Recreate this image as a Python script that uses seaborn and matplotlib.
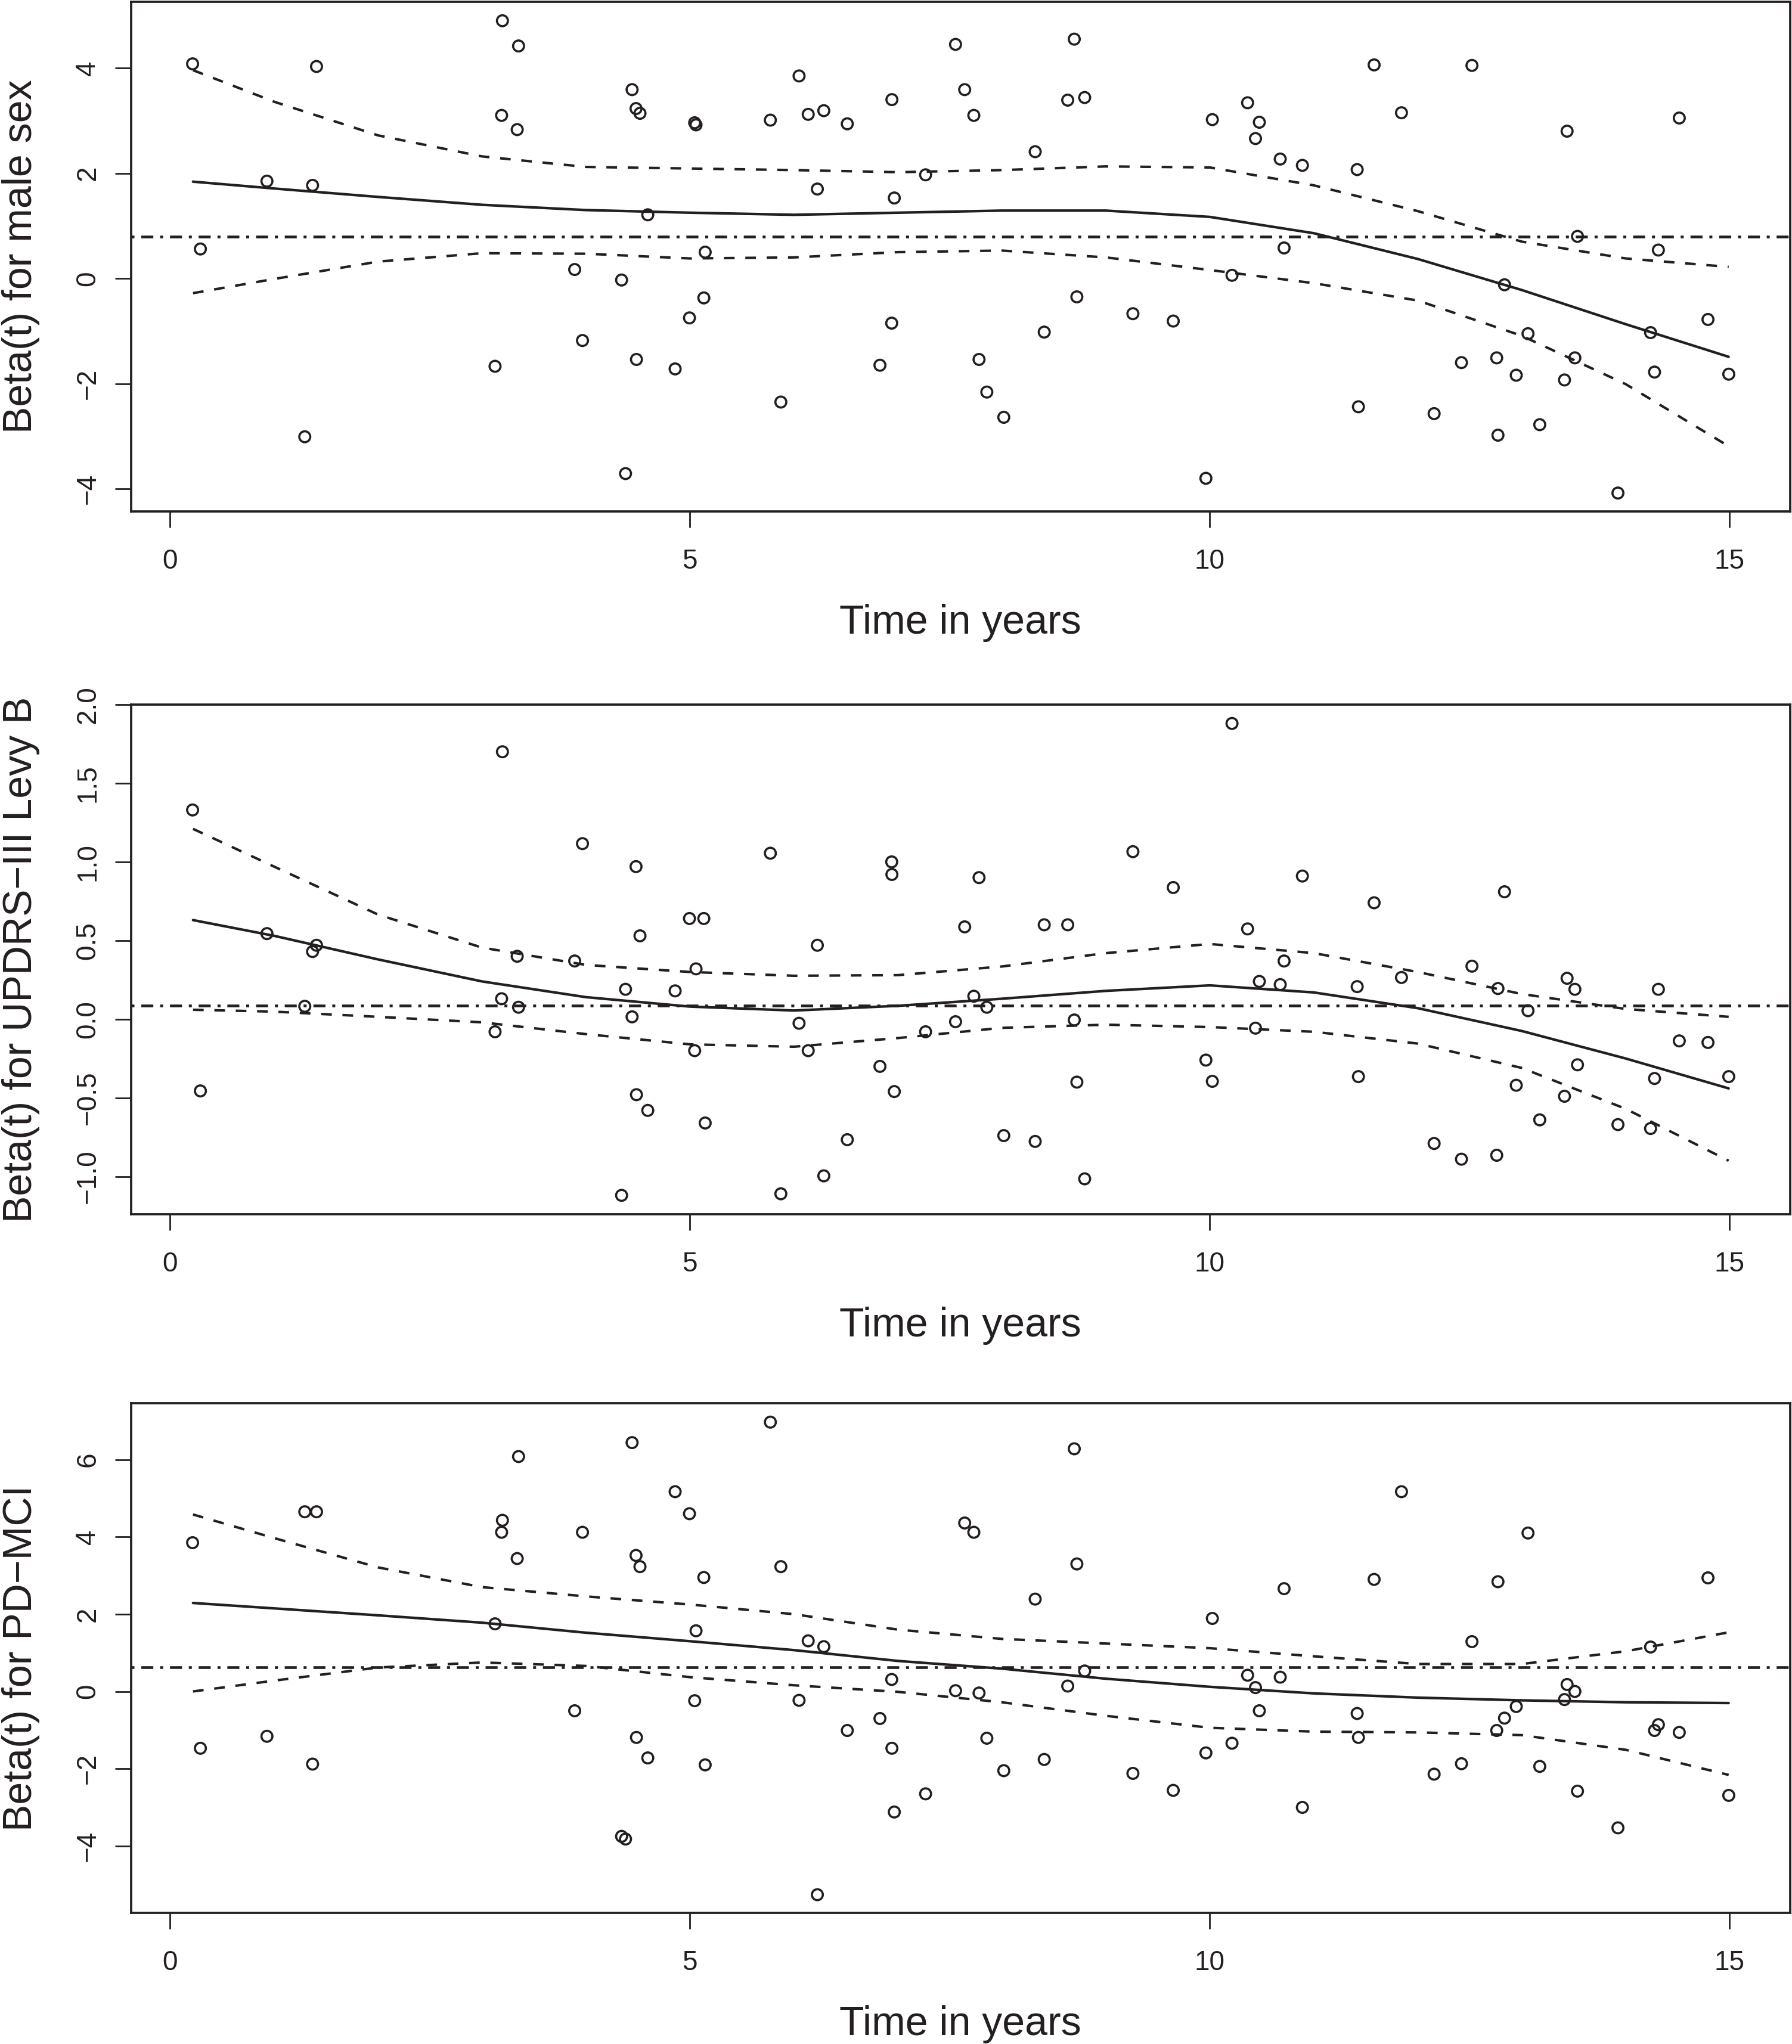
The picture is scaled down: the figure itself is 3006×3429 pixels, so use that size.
import numpy as np
import pandas as pd
import matplotlib
matplotlib.use("Agg")
import matplotlib.pyplot as plt
import seaborn as sns

# ---------------- data ----------------
event_time = [0.216, 0.291, 0.931, 1.295, 1.370, 1.408, 3.125, 3.188, 3.196, 3.351,
              3.338, 3.891, 3.966, 4.342, 4.380, 4.443, 4.481, 4.519, 4.485, 4.594,
              4.857, 4.995, 5.045, 5.058, 5.133, 5.146, 5.773, 5.874, 6.049, 6.137,
              6.225, 6.287, 6.513, 6.827, 6.940, 6.942, 6.965, 7.266, 7.554, 7.642,
              7.730, 7.780, 7.855, 8.018, 8.320, 8.407, 8.633, 8.696, 8.721, 8.796,
              9.260, 9.648, 9.962, 10.024, 10.213, 10.363, 10.439, 10.476, 10.677, 10.714,
              10.890, 11.417, 11.429, 11.580, 11.843, 12.157, 12.420, 12.521, 12.759, 12.771,
              12.834, 12.947, 13.060, 13.173, 13.411, 13.436, 13.511, 13.536, 13.925, 14.239,
              14.277, 14.314, 14.515, 14.791, 14.991]

resid_male_sex = [4.08, 0.56, 1.85, -3.01, 1.77, 4.03, -1.67, 3.10, 4.90, 4.42,
                  2.83, 0.17, -1.18, -0.03, -3.71, 3.59, 3.23, 3.14, -1.54, 1.21,
                  -1.72, -0.75, 2.96, 2.92, -0.37, 0.50, 3.01, -2.35, 3.85, 3.12,
                  1.70, 3.19, 2.94, -1.65, -0.85, 3.40, 1.53, 1.97, 4.45, 3.59,
                  3.10, -1.54, -2.16, -2.64, 2.41, -1.02, 3.39, 4.55, -0.35, 3.44,
                  -0.67, -0.81, -3.80, 3.02, 0.06, 3.34, 2.66, 2.97, 2.27, 0.58,
                  2.15, 2.07, -2.44, 4.06, 3.15, -2.57, -1.60, 4.05, -1.51, -2.98,
                  -0.12, -1.84, -1.05, -2.78, -1.93, 2.80, -1.51, 0.80, -4.08, -1.03,
                  -1.78, 0.54, 3.05, -0.78, -1.82]

resid_updrs = [1.33, -0.456, 0.544, 0.082, 0.43, 0.47, -0.08, 0.13, 1.70, 0.076,
               0.40, 0.37, 1.116, -1.12, 0.19, 0.015, 0.97, 0.53, -0.48, -0.58,
               0.18, 0.64, -0.20, 0.32, 0.64, -0.66, 1.055, -1.11, -0.026, -0.20,
               0.47, -0.996, -0.766, -0.30, 1.0, 0.92, -0.46, -0.08, -0.016, 0.587,
               0.146, 0.90, 0.076, -0.74, -0.777, 0.60, 0.60, -0.005, -0.40, -1.015,
               1.065, 0.837, -0.26, -0.395, 1.88, 0.574, -0.057, 0.24, 0.22, 0.37,
               0.91, 0.207, -0.365, 0.74, 0.265, -0.79, -0.89, 0.337, -0.865, 0.195,
               0.81, -0.42, 0.054, -0.64, -0.49, 0.26, 0.19, -0.29, -0.67, -0.695,
               -0.377, 0.19, -0.138, -0.148, -0.365]

resid_pdmci = [3.85, -1.47, -1.16, 4.65, -1.88, 4.65, 1.75, 4.12, 4.43, 6.08,
               3.44, -0.50, 4.12, -3.75, -3.82, 6.44, 3.52, 3.23, -1.19, -1.72,
               5.17, 4.60, -0.24, 1.57, 2.95, -1.90, 6.97, 3.23, -0.23, 1.31,
               -5.26, 1.16, -1.01, -0.70, 0.31, -1.47, -3.12, -2.65, 0.02, 4.36,
               4.12, -0.04, -1.21, -2.05, 2.39, -1.76, 0.14, 6.28, 3.30, 0.53,
               -2.12, -2.56, -1.59, 1.89, -1.34, 0.42, 0.10, -0.50, 0.37, 2.66,
               -3.00, -0.57, -1.19, 2.90, 5.17, -2.14, -1.87, 1.29, -1.01, 2.84,
               -0.69, -0.39, 4.10, -1.94, -0.21, 0.18, 0.00, -2.58, -3.53, 1.15,
               -1.01, -0.86, -1.06, 2.94, -2.69]

curve_time = [0.22, 1, 2, 3, 4, 5, 6, 7, 8, 9, 10, 11, 12, 13, 14, 14.99]

fit_male_sex = [1.84, 1.71, 1.55, 1.40, 1.30, 1.25, 1.21, 1.25, 1.29, 1.29, 1.17, 0.86, 0.37, -0.22, -0.87, -1.49]
upper_male_sex = [3.96, 3.36, 2.72, 2.32, 2.12, 2.09, 2.06, 2.02, 2.06, 2.13, 2.11, 1.77, 1.28, 0.70, 0.38, 0.22]
lower_male_sex = [-0.28, -0.01, 0.32, 0.48, 0.47, 0.38, 0.40, 0.50, 0.53, 0.40, 0.16, -0.09, -0.42, -1.09, -2.01, -3.19]

fit_updrs = [0.63, 0.53, 0.38, 0.24, 0.14, 0.08, 0.055, 0.085, 0.13, 0.18, 0.215, 0.17, 0.07, -0.075, -0.25, -0.44]
upper_updrs = [1.21, 0.97, 0.665, 0.455, 0.345, 0.30, 0.276, 0.28, 0.335, 0.42, 0.478, 0.42, 0.30, 0.16, 0.065, 0.015]
lower_updrs = [0.06, 0.048, 0.015, -0.02, -0.095, -0.16, -0.175, -0.12, -0.055, -0.035, -0.05, -0.08, -0.155, -0.31, -0.57, -0.90]

fit_pdmci = [2.29, 2.15, 1.97, 1.78, 1.52, 1.30, 1.07, 0.79, 0.59, 0.33, 0.12, -0.05, -0.16, -0.23, -0.28, -0.30]
upper_pdmci = [4.58, 3.97, 3.21, 2.70, 2.46, 2.25, 2.00, 1.60, 1.36, 1.24, 1.12, 0.91, 0.71, 0.71, 1.04, 1.53]
lower_pdmci = [0.00, 0.28, 0.62, 0.75, 0.66, 0.37, 0.16, -0.01, -0.28, -0.63, -0.94, -1.04, -1.06, -1.13, -1.51, -2.16]

coef_male_sex = 0.79
coef_updrs = 0.087
coef_pdmci = 0.624

ylabels = ["Beta(t) for male sex", "Beta(t) for UPDRS\u2212III Levy B", "Beta(t) for PD\u2212MCI"]
xlabel = "Time in years"
xticks = [0, 5, 10, 15]
xtick_labels = ["0", "5", "10", "15"]
yticks_male_sex = [-4, -2, 0, 2, 4]
ytick_labels_male_sex = ["\u22124", "\u22122", "0", "2", "4"]
yticks_updrs = [-1.0, -0.5, 0.0, 0.5, 1.0, 1.5, 2.0]
ytick_labels_updrs = ["\u22121.0", "\u22120.5", "0.0", "0.5", "1.0", "1.5", "2.0"]
yticks_pdmci = [-4, -2, 0, 2, 4, 6]
ytick_labels_pdmci = ["\u22124", "\u22122", "0", "2", "4", "6"]

# ---------------- style ----------------
sns.set_style("white")
plt.rcParams["font.family"] = ["Liberation Sans", "DejaVu Sans"]
INK = "#231f20"

W, H = 3006, 3429
fig = plt.figure(figsize=(W / 100, H / 100), dpi=100)

left_px, right_px = 220, 3003
tops = [3, 1182, 2354]
bottoms = [858, 2037, 3209]
ylims = [(-4.43, 5.26), (-1.24, 2.0), (-5.73, 7.46)]
xlim = (-0.375, 15.582)

panels = [
    (resid_male_sex, fit_male_sex, upper_male_sex, lower_male_sex, coef_male_sex,
     yticks_male_sex, ytick_labels_male_sex),
    (resid_updrs, fit_updrs, upper_updrs, lower_updrs, coef_updrs,
     yticks_updrs, ytick_labels_updrs),
    (resid_pdmci, fit_pdmci, upper_pdmci, lower_pdmci, coef_pdmci,
     yticks_pdmci, ytick_labels_pdmci),
]

for i, (resid, fit, up, lo, coef, yt, ytl) in enumerate(panels):
    t, b = tops[i], bottoms[i]
    ax = fig.add_axes([left_px / W, 1 - b / H, (right_px - left_px) / W, (b - t) / H])
    ax.set_facecolor("white")

    pts = pd.DataFrame({"time": event_time, "resid": resid})
    sns.scatterplot(data=pts, x="time", y="resid", ax=ax, marker="o", s=175,
                    facecolor="none", edgecolor=INK, linewidth=2.6, legend=False,
                    zorder=3)

    cur = pd.DataFrame({"time": curve_time, "fit": fit, "upper": up, "lower": lo})
    sns.lineplot(data=cur, x="time", y="fit", ax=ax, estimator=None, sort=False,
                 color=INK, linewidth=3.1, zorder=4)
    sns.lineplot(data=cur, x="time", y="upper", ax=ax, estimator=None, sort=False,
                 color=INK, linewidth=3.0, linestyle=(0, (4.3, 4.3)), zorder=4)
    sns.lineplot(data=cur, x="time", y="lower", ax=ax, estimator=None, sort=False,
                 color=INK, linewidth=3.0, linestyle=(0, (4.3, 4.3)), zorder=4)
    ax.axhline(coef, color=INK, linewidth=3.3, linestyle=(0, (1.1, 2.5, 4.4, 2.5)),
               zorder=4)

    ax.set_xlim(*xlim)
    ax.set_ylim(*ylims[i])
    ax.set_xticks(xticks, labels=xtick_labels)
    ax.set_yticks(yt, labels=ytl, rotation=90, va="center")
    ax.set_xlabel("")
    ax.set_ylabel("")
    ax.tick_params(axis="both", direction="out", length=19.5, width=2.0,
                   color=INK, labelcolor=INK, labelsize=33,
                   bottom=True, left=True, top=False, right=False)
    ax.tick_params(axis="x", pad=25)
    ax.tick_params(axis="y", pad=17)
    for sp in ax.spines.values():
        sp.set_visible(True)
        sp.set_linewidth(2.7)
        sp.set_color(INK)
    ax.grid(False)

    # axis labels
    fig.text(1611 / W, 1 - (b + 205) / H, xlabel, ha="center", va="baseline",
             fontsize=49, color=INK)
    fig.text(35 / W, 1 - ((t + b) / 2) / H, ylabels[i], ha="center", va="center",
             rotation=90, fontsize=49, color=INK)

fig.savefig("out.png", dpi=100, facecolor="white")
